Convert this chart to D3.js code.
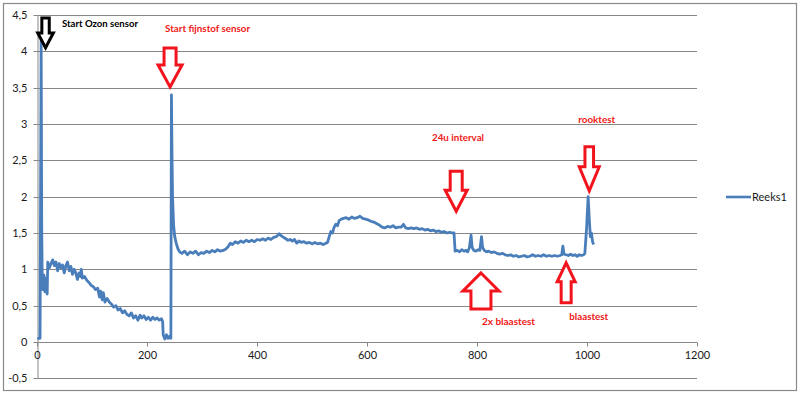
<!DOCTYPE html>
<html>
    <head>
        <style>
            body { margin: 0; background: white; }
            .grid line { stroke: #878787; stroke-width: 1; }
            .axis path, .axis line { stroke: #878787; }
            .axis text { font-family: Lato, 'Open Sans', sans-serif; font-size: 11px; fill: #1a1a1a; }
            .label { font-family: Lato, 'Open Sans', sans-serif; font-size: 10px; font-weight: bold; }
        </style>
    </head>
    <body>
        <div id="plateau"></div>
        <script src="https://cdn.jsdelivr.net/npm/d3@7"></script>
        <script>

//////////////////// donnees ////////////////////
const serie_nom = 'Reeks1';

const xs = [0, 5, 7, 8, 9, 10, 12, 14, 16, 18, 19, 22, 25, 28, 31, 34, 37, 40, 43, 46,
    49, 52, 55, 58, 61, 64, 67, 70, 73, 76, 79, 80, 82, 86, 90, 94, 98, 102, 106, 110,
    113, 115, 118, 120, 123, 127, 131, 135, 139, 143, 147, 151, 155, 159, 163, 167, 171, 175, 179, 183,
    187, 190, 194, 198, 202, 206, 210, 214, 218, 222, 226, 228, 229, 232, 235, 238, 241, 243, 244, 245,
    246, 248, 250, 253, 256, 259, 263, 268, 273, 278, 283, 288, 293, 298, 303, 308, 313, 318, 323, 328,
    333, 338, 343, 347, 351, 355, 360, 365, 370, 375, 380, 385, 390, 395, 400, 405, 410, 415, 420, 425,
    430, 435, 440, 444, 448, 452, 456, 460, 464, 468, 472, 476, 480, 485, 490, 495, 500, 505, 510, 515,
    520, 525, 528, 531, 534, 537, 540, 543, 546, 549, 553, 557, 562, 567, 572, 577, 582, 587, 592, 597,
    602, 607, 612, 617, 622, 627, 632, 637, 642, 647, 652, 657, 662, 666, 670, 675, 680, 685, 690, 695,
    700, 705, 710, 715, 720, 725, 730, 735, 740, 745, 750, 755, 758, 760, 764, 768, 772, 776, 780, 783,
    786, 789, 791, 794, 798, 802, 805, 808, 810, 813, 817, 821, 826, 831, 836, 841, 846, 851, 856, 861,
    866, 871, 876, 881, 886, 891, 896, 901, 906, 911, 916, 921, 926, 931, 936, 941, 946, 951, 954, 956,
    958, 962, 966, 970, 974, 978, 982, 986, 990, 994, 996, 999, 1002, 1004, 1006, 1008, 1010, 1012];

const ys = [0.05, 0.05, 4.15, 1.6, 0.85, 0.72, 0.92, 0.69, 0.88, 0.66, 1.1, 1.02, 1.08, 1.13, 1.05, 1.1, 0.98, 1.08, 1.02, 1.06,
    0.95, 1.05, 1.1, 0.98, 1.04, 0.93, 1.0, 0.95, 0.86, 0.95, 0.9, 1.0, 0.88, 0.9, 0.85, 0.82, 0.78, 0.76, 0.72, 0.74,
    0.62, 0.7, 0.58, 0.68, 0.55, 0.6, 0.55, 0.52, 0.48, 0.5, 0.44, 0.46, 0.4, 0.43, 0.38, 0.36, 0.4, 0.33, 0.36, 0.3,
    0.37, 0.33, 0.36, 0.31, 0.34, 0.3, 0.34, 0.31, 0.33, 0.3, 0.32, 0.28, 0.1, 0.04, 0.1, 0.05, 0.08, 0.05, 3.4, 2.6,
    2.0, 1.6, 1.45, 1.35, 1.28, 1.24, 1.22, 1.25, 1.2, 1.24, 1.22, 1.25, 1.2, 1.23, 1.22, 1.25, 1.23, 1.26, 1.24, 1.27,
    1.25, 1.26, 1.28, 1.31, 1.36, 1.34, 1.38, 1.36, 1.39, 1.37, 1.4, 1.38, 1.4, 1.38, 1.41, 1.4, 1.42, 1.4, 1.43, 1.41,
    1.44, 1.45, 1.49, 1.46, 1.44, 1.42, 1.4, 1.41, 1.39, 1.41, 1.36, 1.39, 1.37, 1.38, 1.36, 1.37, 1.35, 1.37, 1.35, 1.36,
    1.34, 1.36, 1.37, 1.45, 1.52, 1.5, 1.58, 1.62, 1.6, 1.67, 1.69, 1.7, 1.71, 1.69, 1.72, 1.7, 1.71, 1.73, 1.7, 1.69,
    1.68, 1.66, 1.65, 1.63, 1.61, 1.58, 1.57, 1.59, 1.58, 1.6, 1.57, 1.58, 1.58, 1.62, 1.57, 1.56, 1.57, 1.56, 1.57, 1.55,
    1.56, 1.54, 1.55, 1.53, 1.54, 1.52, 1.53, 1.51, 1.52, 1.5, 1.51, 1.5, 1.5, 1.25, 1.26, 1.24, 1.27, 1.25, 1.26, 1.24,
    1.3, 1.47, 1.3, 1.26, 1.25, 1.27, 1.26, 1.45, 1.3, 1.26, 1.24, 1.25, 1.23, 1.24, 1.22, 1.21, 1.22, 1.2, 1.19, 1.2,
    1.18, 1.19, 1.17, 1.18, 1.19, 1.17, 1.18, 1.2, 1.18, 1.19, 1.18, 1.2, 1.18, 1.19, 1.18, 1.19, 1.18, 1.19, 1.2, 1.32,
    1.21, 1.2, 1.19, 1.21, 1.19, 1.2, 1.18, 1.2, 1.19, 1.2, 1.22, 1.55, 2.0, 1.7, 1.45, 1.5, 1.38, 1.34];

const x_ticks = [0, 200, 400, 600, 800, 1000, 1200];
const y_ticks = [-0.5, 0, 0.5, 1, 1.5, 2, 2.5, 3, 3.5, 4, 4.5];

// annotations : texte, position (valeurs), couleur
const notes_texte = ['Start Ozon sensor', 'Start fijnstof sensor', '24u interval', 'rooktest', '2x blaastest', 'blaastest'];
const notes_x = [45, 232.4, 718, 984, 809, 967.6];
const notes_y = [4.34, 4.27, 2.77, 3.02, 0.24, 0.30];
const notes_couleur = ['black', '#f01818', '#f01818', '#f01818', '#f01818', '#f01818'];
const notes_largeur = [76, 85, 52, 37, 53, 39];

// fleches : pointe (valeurs), sens
const fleches_x = [15, 241.5, 762, 1004, 807, 962];
const fleches_y = [4.05, 3.51, 1.8, 2.08, 0.95, 1.09];
const fleches_sens = ['bas', 'bas', 'bas', 'bas', 'haut', 'haut'];
const fleches_couleur = ['black', '#f2141c', '#f2141c', '#f2141c', '#f2141c', '#f2141c'];

//////////////////// dimensions ////////////////////
let W = 800;
let H = 394;

// [demi tete, demi tige, longueur tete, longueur totale]
let fleches_taille = [
    [7.8, 3.7, 14.7, 29.7],
    [12, 6, 22, 39],
    [11, 6, 21, 40],
    [10, 4.3, 24, 44],
    [18, 10, 18, 36],
    [9, 5, 19, 40]
];

let x = d3.scaleLinear().domain([0, 1200]).range([37.3, 697]);
let y = d3.scaleLinear().domain([-0.5, 4.5]).range([378.3, 15]);

let svg = d3.select('#plateau').append('svg')
    .attr('width', W)
    .attr('height', H);

svg.append('rect')
    .attr('x', 3.5).attr('y', 3.5)
    .attr('width', W - 7).attr('height', H - 7)
    .attr('fill', 'white')
    .attr('stroke', '#8a8a8a')
    .attr('stroke-width', 1.2);

// grille
svg.append('g')
    .classed('grid', true)
    .selectAll('line')
    .data(y_ticks)
    .join('line')
    .attr('x1', x(0)).attr('x2', x(1200))
    .attr('y1', d => Math.round(y(d)) + 0.5)
    .attr('y2', d => Math.round(y(d)) + 0.5);

let virgule = d => String(d).replace('.', ',');

// axe y
svg.append('g')
    .classed('axis', true)
    .attr('transform', `translate(${Math.round(x(0)) + 0.5}, 0)`)
    .call(d3.axisLeft(y).tickValues(y_ticks).tickFormat(virgule).tickSize(4).tickSizeOuter(0).tickPadding(6))
    .call(g => g.selectAll('.tick').attr('transform', d => `translate(0, ${Math.round(y(d)) + 0.5})`));

// axe x
svg.append('g')
    .classed('axis', true)
    .attr('transform', `translate(0, ${Math.round(y(0)) + 0.5})`)
    .call(d3.axisBottom(x).tickValues(x_ticks).tickFormat(d => d).tickSize(4).tickSizeOuter(0).tickPadding(5))
    .call(g => g.select('.domain').remove())
    .call(g => g.selectAll('.tick').attr('transform', d => `translate(${Math.round(x(d)) + 0.5}, 0)`));

// serie
let points = xs.map((v, i) => [v, ys[i]]);
let ligne = d3.line().x(d => x(d[0])).y(d => y(d[1]));

svg.append('path')
    .datum(points)
    .attr('d', ligne)
    .attr('fill', 'none')
    .attr('stroke', '#4a7ebb')
    .attr('stroke-width', 2.8)
    .attr('stroke-linejoin', 'round');

// legende
svg.append('line')
    .attr('x1', 726).attr('x2', 751)
    .attr('y1', 197).attr('y2', 197)
    .attr('stroke', '#4a7ebb')
    .attr('stroke-width', 2.6);
svg.append('text')
    .attr('x', 752).attr('y', 201)
    .style('font-family', 'Lato, sans-serif')
    .style('font-size', '11px')
    .attr('fill', '#1a1a1a')
    .text(serie_nom);

// fleches
fleches_x.forEach((fx, i) => {
    let [hh, ht, lt, lg] = fleches_taille[i];
    let s = fleches_sens[i] == 'bas' ? -1 : 1; // direction vers la queue
    let tx = x(fx), ty = y(fleches_y[i]);
    let yh = ty + s * lt;
    let yq = ty + s * lg;
    let d = `M ${tx} ${ty} L ${tx + hh} ${yh} L ${tx + ht} ${yh} L ${tx + ht} ${yq} L ${tx - ht} ${yq} L ${tx - ht} ${yh} L ${tx - hh} ${yh} Z`;
    svg.append('path')
        .attr('d', d)
        .attr('fill', 'white')
        .attr('stroke', fleches_couleur[i])
        .attr('stroke-width', 3)
        .attr('stroke-linejoin', 'miter');
});

// textes
notes_texte.forEach((t, i) => {
    svg.append('text')
        .classed('label', true)
        .attr('x', x(notes_x[i]))
        .attr('y', y(notes_y[i]))
        .attr('fill', notes_couleur[i])
        .attr('textLength', notes_largeur[i])
        .attr('lengthAdjust', 'spacingAndGlyphs')
        .text(t);
});

        </script>
    </body>
</html>
